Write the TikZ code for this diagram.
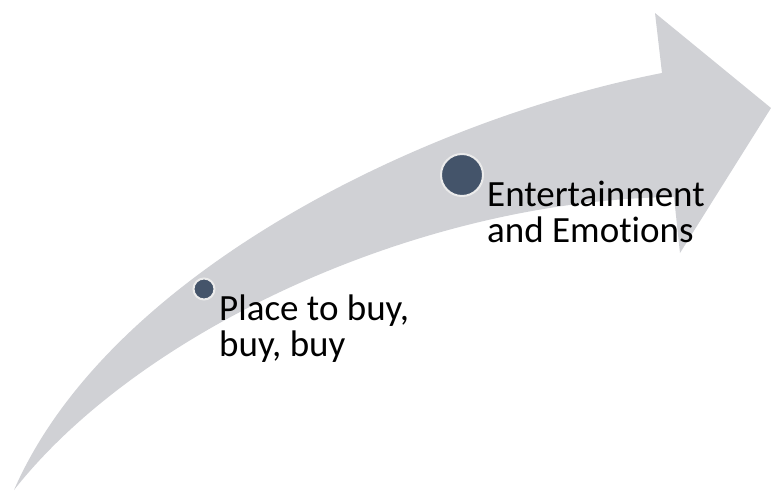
\documentclass[tikz,border=0pt]{standalone}
\usepackage{fontspec}
\setmainfont{Carlito}[Ligatures=NoCommon]
\usepackage{tikz}
\definecolor{arrowgray}{HTML}{D0D1D5}
\definecolor{slate}{HTML}{44546A}
\definecolor{rim}{HTML}{EBEBEB}
\tikzstyle{dot} = [circle, fill=slate, draw=rim, line width=2pt, inner sep=0pt]
\tikzstyle{blurb} = [anchor=north west, align=left, inner sep=0pt,
                 font=\fontsize{37}{36}\selectfont]

\begin{document}
\begin{tikzpicture}[x=1pt, y=-1pt]

\useasboundingbox (0,0) rectangle (771,490);

\coordinate (tail) at (14,490);
\coordinate (upshoulder) at (662,73);
\coordinate (headtop) at (655,13);
\coordinate (tip) at (771,108);
\coordinate (headbot) at (680,253);
\coordinate (lowshoulder) at (674,197);

	%curved arrow
\fill [arrowgray] (tail) .. controls (110,270) and (430,118) .. (upshoulder)
	-- (headtop) -- (tip) -- (headbot) -- (lowshoulder)
	.. controls (420,200) and (140,330) .. (tail) -- cycle;

\node [dot, minimum size=21pt] at (204,289) (buydot) {};
\node [dot, minimum size=42pt] at (462,175) (fundot) {};

\node [blurb] at (219,294.5) (buy) {Place to buy,\\buy, buy};
\node [blurb] at (487,180.5) (fun) {Entertainment\\and Emotions};

\end{tikzpicture}
\end{document}
